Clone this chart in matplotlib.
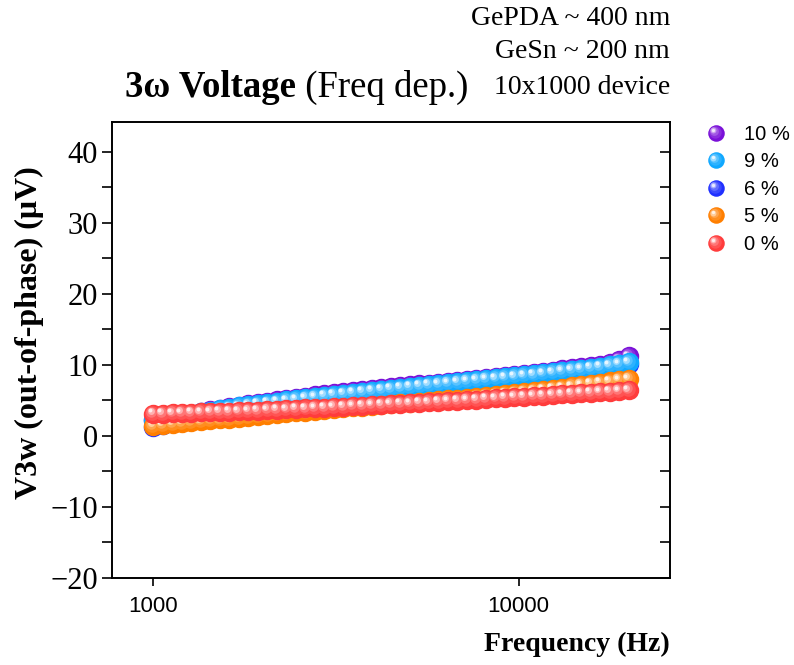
import matplotlib
matplotlib.use("Agg")
import matplotlib.pyplot as plt
import matplotlib.transforms as mtransforms
from matplotlib.colors import to_rgb
from matplotlib.legend_handler import HandlerBase
from matplotlib.lines import Line2D
from matplotlib.ticker import MultipleLocator, FixedLocator, NullLocator

# frecuencias del barrido (Hz)
freq = [1000, 1062, 1128, 1197, 1271, 1350, 1433, 1521, 1615, 1715,
        1821, 1933, 2053, 2180, 2314, 2457, 2609, 2770, 2941, 3122,
        3315, 3520, 3737, 3968, 4213, 4472, 4748, 5042, 5353, 5683,
        6034, 6407, 6802, 7222, 7668, 8142, 8645, 9178, 9745, 10347,
        10986, 11664, 12384, 13149, 13961, 14823, 15738, 16710, 17742, 18837,
        20000]

v_10 = [2.20, 2.43, 2.66, 2.89, 3.12, 3.35, 3.58, 3.81, 4.04, 4.27,
        4.50, 4.67, 4.84, 5.01, 5.18, 5.35, 5.52, 5.69, 5.86, 6.03,
        6.20, 6.33, 6.46, 6.59, 6.72, 6.85, 6.98, 7.11, 7.24, 7.37,
        7.50, 7.64, 7.78, 7.92, 8.06, 8.20, 8.34, 8.48, 8.62, 8.76,
        8.90, 9.05, 9.20, 9.36, 9.52, 9.68, 9.85, 10.05, 10.30, 10.65,
        11.20]
v_9 = [2.30, 2.51, 2.71, 2.92, 3.12, 3.33, 3.53, 3.74, 3.94, 4.15,
       4.35, 4.51, 4.67, 4.83, 4.99, 5.15, 5.31, 5.47, 5.63, 5.79,
       5.95, 6.09, 6.22, 6.36, 6.49, 6.63, 6.76, 6.90, 7.03, 7.17,
       7.30, 7.44, 7.57, 7.71, 7.84, 7.98, 8.11, 8.25, 8.38, 8.52,
       8.65, 8.80, 8.95, 9.10, 9.25, 9.41, 9.57, 9.74, 9.92, 10.12,
       10.35]
v_6 = [1.30, 1.57, 1.84, 2.11, 2.38, 2.65, 2.92, 3.19, 3.46, 3.73,
       4.00, 4.17, 4.34, 4.51, 4.68, 4.85, 5.02, 5.19, 5.36, 5.53,
       5.70, 5.83, 5.96, 6.09, 6.22, 6.35, 6.48, 6.61, 6.74, 6.87,
       7.00, 7.14, 7.27, 7.41, 7.54, 7.68, 7.81, 7.95, 8.08, 8.22,
       8.35, 8.50, 8.65, 8.81, 8.97, 9.13, 9.30, 9.48, 9.67, 9.88,
       10.10]
v_5 = [1.40, 1.53, 1.66, 1.79, 1.92, 2.05, 2.18, 2.31, 2.44, 2.57,
       2.70, 2.82, 2.94, 3.06, 3.18, 3.30, 3.42, 3.54, 3.66, 3.78,
       3.90, 4.01, 4.12, 4.23, 4.34, 4.45, 4.56, 4.67, 4.78, 4.89,
       5.00, 5.13, 5.26, 5.39, 5.52, 5.65, 5.78, 5.91, 6.04, 6.17,
       6.30, 6.47, 6.64, 6.81, 6.98, 7.15, 7.32, 7.49, 7.66, 7.83,
       8.00]
v_0 = [3.10, 3.14, 3.18, 3.22, 3.26, 3.30, 3.34, 3.38, 3.42, 3.46,
       3.50, 3.56, 3.62, 3.68, 3.74, 3.80, 3.86, 3.92, 3.98, 4.04,
       4.10, 4.17, 4.24, 4.31, 4.38, 4.45, 4.52, 4.59, 4.66, 4.73,
       4.80, 4.88, 4.96, 5.04, 5.12, 5.20, 5.28, 5.36, 5.44, 5.52,
       5.60, 5.68, 5.76, 5.84, 5.92, 6.00, 6.08, 6.16, 6.24, 6.32,
       6.40]

labels = ["10 %", "9 %", "6 %", "5 %", "0 %"]
colors = ["#7a10d8", "#10a8ff", "#2030ff", "#ff7f00", "#ff3c3c"]
series = [v_10, v_9, v_6, v_5, v_0]
draw_order = [0, 2, 1, 3, 4]  # el azul queda debajo del celeste

# capas de la "esfera": (tamaño, aclarado, desplazamiento en pt)
layers = [(14, 0.0, 0.0), (10.5, 0.12, 0.7), (7.5, 0.3, 1.4),
          (5.0, 0.6, 2.0), (2.8, 0.9, 2.5)]


def lighten(c, f):
    r, g, b = to_rgb(c)
    return (r + (1 - r) * f, g + (1 - g) * f, b + (1 - b) * f)


class SphereHandler(HandlerBase):
    # esfera del mismo estilo para la leyenda, algo mas chica
    def create_artists(self, legend, orig_handle, xdescent, ydescent,
                       width, height, fontsize, trans):
        col = orig_handle.get_markerfacecolor()
        x = 0.5 * width - xdescent
        y = 0.5 * height - ydescent
        k = 0.85
        arts = []
        for size, f, off in layers:
            l = Line2D([x - off * k], [y + off * k], ls="", marker="o", ms=size * k,
                       mfc=lighten(col, f), mew=0, transform=trans)
            arts.append(l)
        return arts


fig = plt.figure(figsize=(7.94, 6.65), dpi=100)
ax = fig.add_axes([0.141, 0.131, 0.703, 0.6855])

for i in draw_order:
    vals, col = series[i], colors[i]
    for size, f, off in layers:
        tr = mtransforms.offset_copy(ax.transData, fig=fig, x=-off, y=off, units="points")
        ax.plot(freq, vals, "o", ms=size, mfc=lighten(col, f), mew=0,
                zorder=2, transform=tr)

handles = [Line2D([], [], ls="", marker="o", mfc=c) for c in colors]

ax.set_xscale("log")
ax.set_xlim(770, 26000)
ax.set_ylim(-20, 44.2)
ax.xaxis.set_major_locator(FixedLocator([1000, 10000]))
ax.xaxis.set_minor_locator(NullLocator())
ax.set_xticklabels(["1000", "10000"])
ax.yaxis.set_major_locator(MultipleLocator(10))
ax.yaxis.set_minor_locator(MultipleLocator(5))

ax.tick_params(axis="y", which="both", direction="out", length=7, width=1.2,
               left=True, right=False, labelsize=22, pad=3)
ax.tick_params(axis="x", which="both", direction="out", length=6, width=1.2,
               top=False, labelsize=16, pad=7)
for lab in ax.get_xticklabels():
    lab.set_fontfamily("Liberation Sans")
for lab in ax.get_yticklabels():
    lab.set_fontfamily("Liberation Serif")

# ticks interiores del eje derecho
ax2 = ax.twinx()
ax2.set_ylim(ax.get_ylim())
ax2.yaxis.set_major_locator(MultipleLocator(10))
ax2.yaxis.set_minor_locator(MultipleLocator(5))
ax2.tick_params(axis="y", which="both", direction="in", length=7, width=1.2,
                labelright=False)

for a in (ax, ax2):
    for s in a.spines.values():
        s.set_linewidth(1.2)

ax.set_ylabel("V3w (out-of-phase) (\u03bcV)", fontfamily="Liberation Serif",
              fontweight="bold", fontsize=23)
ax.yaxis.set_label_coords(-0.122, 0.537)
ax.set_xlabel("Frequency (Hz)", fontfamily="Liberation Serif", fontweight="bold",
              fontsize=20, loc="right")
ax.xaxis.set_label_coords(1.0, -0.118)

fig.text(0.8438, 0.962, "GePDA ~ 400 nm", ha="right", va="baseline",
         fontfamily="Liberation Serif", fontsize=20)
fig.text(0.8438, 0.913, "GeSn ~ 200 nm", ha="right", va="baseline",
         fontfamily="Liberation Serif", fontsize=20)
fig.text(0.8438, 0.859, "10x1000 device", ha="right", va="baseline",
         fontfamily="Liberation Serif", fontsize=20)
t1 = fig.text(0.157, 0.854, "3\u03c9 Voltage", ha="left", va="baseline",
              fontfamily="Liberation Serif", fontsize=26.5, fontweight="bold")
fig.canvas.draw()
bb = t1.get_window_extent()
fig.text(bb.x1 / fig.bbox.width, 0.854, " (Freq dep.)", ha="left", va="baseline",
         fontfamily="Liberation Serif", fontsize=26.5)

leg = ax.legend(handles, labels, handler_map={Line2D: SphereHandler()},
                loc="upper left", bbox_to_anchor=(1.035, 1.025), frameon=False,
                prop={"family": "Liberation Sans", "size": 14.5},
                labelspacing=0.42, handlelength=1.2, handletextpad=0.8,
                borderpad=0.2)

fig.savefig("out.png", dpi=100)
